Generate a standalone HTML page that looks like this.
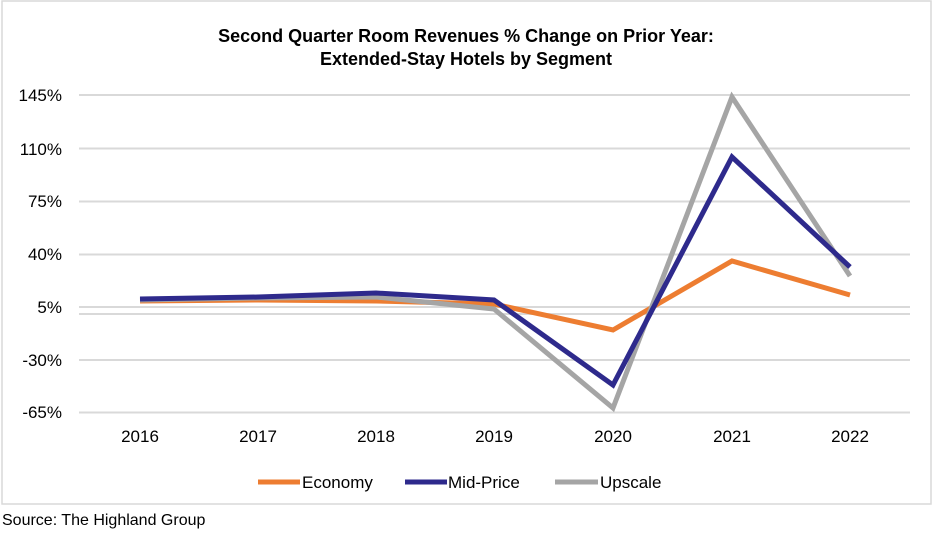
<!DOCTYPE html>
<html><head><meta charset="utf-8"><style>
body{margin:0;background:#fff;}
svg{display:block;font-family:"Liberation Sans",Arial,sans-serif;}
</style></head><body>
<svg width="932" height="545" viewBox="0 0 932 545" xmlns="http://www.w3.org/2000/svg">
<rect x="0" y="0" width="932" height="545" fill="#fff"/>
<rect x="2" y="1" width="929" height="503" fill="none" stroke="#d9d9d9" stroke-width="1.5"/>
<text x="466" y="42" text-anchor="middle" font-size="18" font-weight="bold" fill="#000">Second Quarter Room Revenues % Change on Prior Year:</text>
<text x="466" y="65" text-anchor="middle" font-size="18" font-weight="bold" fill="#000">Extended-Stay Hotels by Segment</text>
<g stroke="#d9d9d9" stroke-width="2">
<line x1="79" x2="910" y1="95" y2="95"/>
<line x1="79" x2="910" y1="148.5" y2="148.5"/>
<line x1="79" x2="910" y1="201.5" y2="201.5"/>
<line x1="79" x2="910" y1="254.5" y2="254.5"/>
<line x1="79" x2="910" y1="307" y2="307"/>
<line x1="79" x2="910" y1="314" y2="314"/>
<line x1="79" x2="910" y1="360" y2="360"/>
<line x1="79" x2="910" y1="412.5" y2="412.5"/>
</g>
<g font-size="17" fill="#000" text-anchor="end">
<text x="62" y="101">145%</text>
<text x="62" y="155">110%</text>
<text x="62" y="207">75%</text>
<text x="62" y="260">40%</text>
<text x="62" y="313">5%</text>
<text x="62" y="366">-30%</text>
<text x="62" y="418">-65%</text>
</g>
<g font-size="17" fill="#000" text-anchor="middle">
<text x="140" y="442">2016</text>
<text x="258" y="442">2017</text>
<text x="376" y="442">2018</text>
<text x="494" y="442">2019</text>
<text x="613" y="442">2020</text>
<text x="732" y="442">2021</text>
<text x="850" y="442">2022</text>
</g>
<g fill="none" stroke-width="5" stroke-linejoin="miter">
<polyline stroke="#ed7d31" points="140,301 258,300 376,301 494,304 613,330 732,261 850,295"/>
<polyline stroke="#a5a5a5" points="140,300 258,298 376,297 494,309 613,408 732,97 850,276"/>
<polyline stroke="#2e2a8c" points="140,299 258,297 376,293 494,300 613,385 732,157 850,267"/>
</g>
<g stroke-width="5">
<line x1="258" x2="300" y1="482" y2="482" stroke="#ed7d31"/>
<line x1="405" x2="447" y1="482" y2="482" stroke="#2e2a8c"/>
<line x1="555" x2="598" y1="482" y2="482" stroke="#a5a5a5"/>
</g>
<g font-size="17" fill="#000">
<text x="302" y="488">Economy</text>
<text x="448" y="488">Mid-Price</text>
<text x="600" y="488">Upscale</text>
</g>
<text x="2" y="525" font-size="16" fill="#000">Source: The Highland Group</text>
</svg>
</body></html>
